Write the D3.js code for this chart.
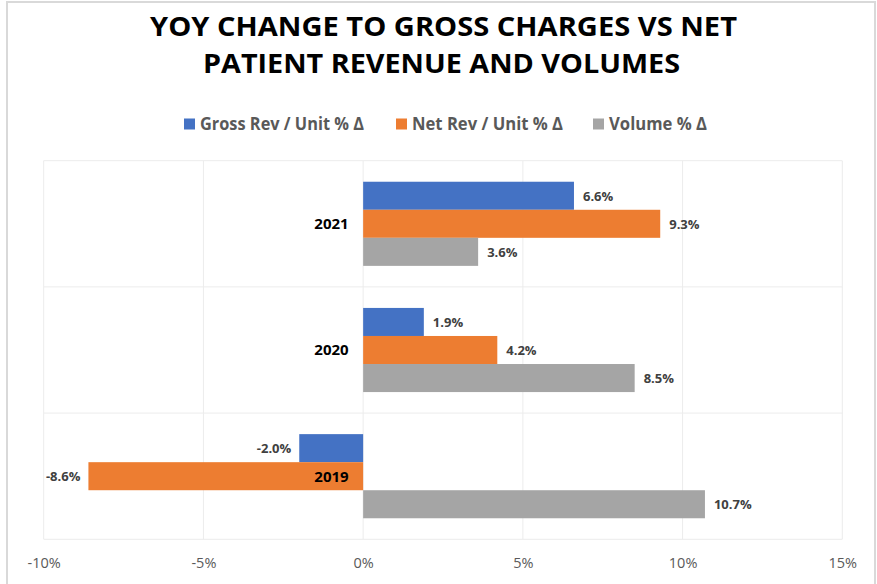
<!DOCTYPE html>
<html><head><meta charset="utf-8">
<script src="https://cdn.jsdelivr.net/npm/d3@7"></script>
<style>body{margin:0;background:#fff;} svg{display:block;font-family:"Open Sans",sans-serif;}</style>
</head><body>
<svg id="c" width="877" height="584"></svg>
<script>
const categories = ["2021", "2020", "2019"];
const seriesNames = ["Gross Rev / Unit % Δ", "Net Rev / Unit % Δ", "Volume % Δ"];
const grossRev = [6.6, 1.9, -2.0];
const netRev = [9.3, 4.2, -8.6];
const volume = [3.6, 8.5, 10.7];
const colors = ["#4472c4", "#ed7d31", "#a5a5a5"];
const tickValues = [-10, -5, 0, 5, 10, 15];
const titleLines = ["YOY CHANGE TO GROSS CHARGES VS NET", "PATIENT REVENUE AND VOLUMES"];

const seriesVals = [grossRev, netRev, volume];
const svg = d3.select("#c");

// border
svg.append("rect").attr("x", 7).attr("y", 2).attr("width", 868).attr("height", 590)
  .attr("fill", "none").attr("stroke", "#d9d9d9").attr("stroke-width", 2);

// title
const titleW = [587, 477];
svg.append("g").selectAll("text").data(titleLines).join("text")
  .attr("x", (d, i) => i === 0 ? 150 : 203).attr("y", (d, i) => i === 0 ? 35.7 : 73.3)
  .attr("font-size", 26.5).attr("font-weight", "bold")
  .attr("textLength", (d, i) => titleW[i]).attr("lengthAdjust", "spacingAndGlyphs")
  .attr("fill", "#000").text(d => d);

const x = d3.scaleLinear().domain([-10, 15]).range([43.7, 842.3]);
const y = d3.scaleBand().domain(categories).range([160.7, 539.3]);
const inner = d3.scaleBand().domain(d3.range(3)).range([0, y.bandwidth()]).paddingOuter(0.75).paddingInner(0);

// gridlines
const g = svg.append("g");
g.selectAll("line.v").data(tickValues).join("line")
  .attr("x1", d => x(d)).attr("x2", d => x(d)).attr("y1", 160.7).attr("y2", 539.3)
  .attr("stroke", "#ececec").attr("stroke-width", 1);
const hb = [160.7, ...categories.map(c => y(c) + y.bandwidth())];
g.selectAll("line.h").data(hb).join("line")
  .attr("x1", 43.7).attr("x2", 842.3).attr("y1", d => d).attr("y2", d => d)
  .attr("stroke", "#ececec").attr("stroke-width", 1);

// axis labels
const xAxis = d3.axisBottom(x).tickValues(tickValues).tickFormat(d => d + "%").tickSize(0).tickPadding(0);
const ax = svg.append("g").attr("transform", "translate(0,568)").call(xAxis);
ax.select(".domain").remove();
ax.selectAll("text").attr("font-size", 14.5).attr("fill", "#595959").attr("font-family", "'Open Sans',sans-serif").attr("dy", 0);

// bars
const data = [];
categories.forEach((c, ci) => seriesVals.forEach((s, si) => data.push({c, si, v: s[ci]})));
svg.append("g").selectAll("rect").data(data).join("rect")
  .attr("x", d => x(Math.min(0, d.v))).attr("width", d => Math.abs(x(d.v) - x(0)))
  .attr("y", d => y(d.c) + inner(d.si)).attr("height", inner.bandwidth())
  .attr("fill", d => colors[d.si]);

// category labels
svg.append("g").selectAll("text").data(categories).join("text")
  .attr("x", x(0) - 14.5).attr("y", d => y(d) + y.bandwidth() / 2 + 5.3)
  .attr("text-anchor", "end").attr("font-size", 15).attr("font-weight", "bold").attr("fill", "#000")
  .text(d => d);

// data labels
svg.append("g").selectAll("text").data(data).join("text")
  .attr("x", d => d.v >= 0 ? x(d.v) + 9 : x(d.v) - 8)
  .attr("y", d => y(d.c) + inner(d.si) + inner.bandwidth() / 2 + 4.8)
  .attr("text-anchor", d => d.v >= 0 ? "start" : "end")
  .attr("font-size", 13).attr("font-weight", "bold").attr("fill", "#404040")
  .text(d => d.v.toFixed(1) + "%");

// legend
const legX = [184, 396, 593];
const legW = [164, 151, 98];
const lg = svg.append("g").selectAll("g").data(seriesNames).join("g")
  .attr("transform", (d, i) => `translate(${legX[i]},124)`);
lg.append("rect").attr("x", 0).attr("y", -5.5).attr("width", 11).attr("height", 11).attr("fill", (d, i) => colors[i]);
lg.append("text").attr("x", 16).attr("y", 6).attr("font-size", 17).attr("font-weight", "bold").attr("fill", "#595959")
  .attr("textLength", (d, i) => legW[i]).attr("lengthAdjust", "spacingAndGlyphs").text(d => d);
</script>
</body></html>
